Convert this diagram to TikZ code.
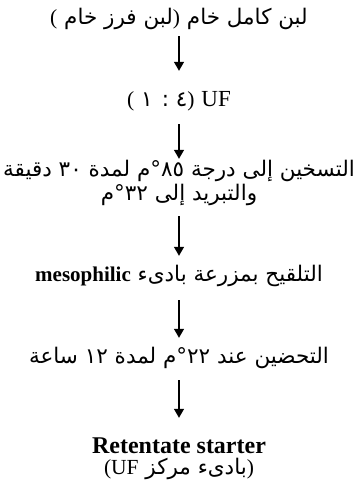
\documentclass[tikz,border=0pt]{standalone}
\usepackage{fontspec}
\setmainfont{Liberation Serif}
\newfontfamily\arabicfont[Script=Arabic]{DejaVu Sans}
\TeXXeTstate=1
\usetikzlibrary{arrows.meta}
% a Latin parenthesis or word set left-to-right inside Arabic text
\newcommand\latpar[1]{\beginL{\rmfamily\fontsize{21.5}{24}\selectfont #1}\endL}
\begin{document}
\begin{tikzpicture}[x=1pt,y=-1pt,
  txt/.style={inner sep=0pt,text height=14pt,text depth=6pt},
  ar/.style={txt,font=\arabicfont\fontsize{21.5}{24}\selectfont},
  lat/.style={txt,font=\fontsize{23}{26}\selectfont},
  flow/.style={-{Triangle[length=9pt,width=10pt]},line width=1.3pt}]
\useasboundingbox (0,0) rectangle (359,490);
% process steps, top to bottom
\node[ar] (n1) at (179,20.5) {\beginR لبن كامل خام \latpar{)}لبن فرز خام \latpar{(}\endR};
\node[ar] (n2) at (179,102.5) {\beginR\latpar{\fontsize{23}{26}\selectfont UF} \latpar{)}٤ : ١ \latpar{(}\endR};
\node[ar] (n3a) at (179,172.5) {\beginR التسخين إلى درجة ٨٥°م لمدة ٣٠ دقيقة\endR};
\node[ar] (n3b) at (179,196.5) {\beginR والتبريد إلى ٣٢°م\endR};
\node[ar] (n4) at (179,277.5) {\beginR التلقيح بمزرعة بادىء \latpar{\bfseries\fontsize{21}{24}\selectfont mesophilic}\endR};
\node[ar] (n5) at (179,359.5) {\beginR التحضين عند ٢٢°م لمدة ١٢ ساعة\endR};
\node[lat,font=\fontsize{24}{26}\selectfont\bfseries] (n6a) at (179,449.5) {Retentate starter};
\node[ar] (n6b) at (179,470.5) {\beginR\latpar{)}بادىء مركز \latpar{(UF}\endR};
% connectors
\draw[flow,shorten <=5.5pt,shorten >=21.5pt] (n1.south) -- (n2.north);
\draw[flow,shorten <=11.5pt,shorten >=3.5pt] (n2.south) -- (n3a.north);
\draw[flow,shorten <=9.5pt,shorten >=11.5pt] (n3b.south) -- (n4.north);
\draw[flow,shorten <=12.5pt,shorten >=11.5pt] (n4.south) -- (n5.north);
\draw[flow,shorten <=10.5pt,shorten >=21.5pt] (n5.south) -- (n6a.north);
\end{tikzpicture}
\end{document}
